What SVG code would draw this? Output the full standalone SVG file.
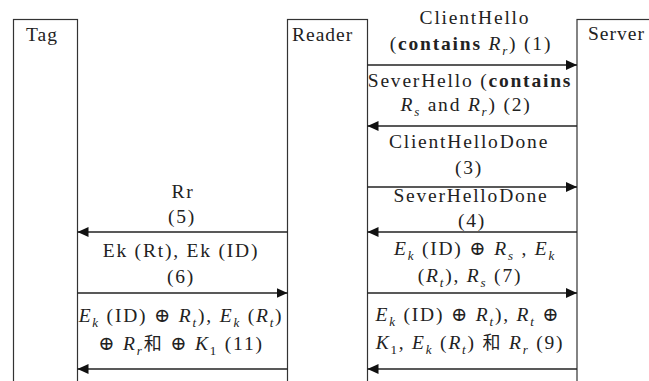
<svg xmlns="http://www.w3.org/2000/svg" width="649" height="381" viewBox="0 0 649 381">
<style>
  .box{fill:none;stroke:#333;stroke-width:1.2}
  text{font-family:'Liberation Serif',Tinos,'Times New Roman','DejaVu Serif',serif;font-size:19.5px;fill:#222}
  .hdr{letter-spacing:1px}
  .lbl{letter-spacing:1.8px;text-anchor:middle}
  .msg{stroke:#222;stroke-width:1.5;fill:none}
  .i{font-style:italic}
  .b{font-weight:bold}
  .s{font-size:13px}
  .cjk{font-family:'Noto Sans CJK SC',sans-serif;font-size:18px}
</style>
<defs>
  <marker id="ah" markerWidth="12" markerHeight="10" refX="11" refY="5" orient="auto" markerUnits="userSpaceOnUse">
    <path d="M0,0 L11,5 L0,10 Z" fill="#111"/>
  </marker>
</defs>
<rect width="649" height="381" fill="#fff"/>
<g id="tag">
  <rect class="box" x="13.5" y="19.5" width="64" height="400"/>
  <text class="hdr" x="26" y="41">Tag</text>
</g>
<g id="reader">
  <rect class="box" x="287.5" y="19.5" width="80" height="400"/>
  <text class="hdr" x="292" y="41">Reader</text>
</g>
<g id="server">
  <rect class="box" x="577" y="19.5" width="100" height="400"/>
  <text class="hdr" x="588" y="40">Server</text>
</g>
<g id="connectors">
  <g id="m1">
    <line class="msg" x1="367.5" y1="65" x2="577" y2="65" marker-end="url(#ah)"/>
    <text class="lbl" x="475" y="24">ClientHello</text>
    <text class="lbl" x="471" y="50">(<tspan class="b">contains </tspan><tspan class="i">R</tspan><tspan class="i s" dy="5">r</tspan><tspan dy="-5">) (1)</tspan></text>
  </g>
  <g id="m2">
    <line class="msg" x1="577" y1="126" x2="367.5" y2="126" marker-end="url(#ah)"/>
    <text class="lbl" x="470" y="87">SeverHello (<tspan class="b">contains</tspan></text>
    <text class="lbl" x="466" y="111"><tspan class="i">R</tspan><tspan class="i s" dy="5">s</tspan><tspan dy="-5"> and </tspan><tspan class="i">R</tspan><tspan class="i s" dy="5">r</tspan><tspan dy="-5">) (2)</tspan></text>
  </g>
  <g id="m3">
    <line class="msg" x1="367.5" y1="187" x2="577" y2="187" marker-end="url(#ah)"/>
    <text class="lbl" x="469" y="148">ClientHelloDone</text>
    <text class="lbl" x="469" y="174">(3)</text>
  </g>
  <g id="m4">
    <line class="msg" x1="577" y1="232" x2="367.5" y2="232" marker-end="url(#ah)"/>
    <text class="lbl" x="471" y="202">SeverHelloDone</text>
    <text class="lbl" x="472" y="227">(4)</text>
  </g>
  <g id="m5">
    <line class="msg" x1="287.5" y1="232" x2="77.5" y2="232" marker-end="url(#ah)"/>
    <text class="lbl" x="183" y="198">Rr</text>
    <text class="lbl" x="182" y="223">(5)</text>
  </g>
  <g id="m6">
    <line class="msg" x1="77.5" y1="293" x2="287.5" y2="293" marker-end="url(#ah)"/>
    <text class="lbl" x="181" y="257">Ek (Rt), Ek (ID)</text>
    <text class="lbl" x="181" y="283">(6)</text>
  </g>
  <g id="m7">
    <line class="msg" x1="367.5" y1="293" x2="577" y2="293" marker-end="url(#ah)"/>
    <text class="lbl" x="475" y="255"><tspan class="i">E</tspan><tspan class="i s" dy="5">k</tspan><tspan dy="-5"> (ID) ⊕ </tspan><tspan class="i">R</tspan><tspan class="i s" dy="5">s</tspan><tspan dy="-5"> , </tspan><tspan class="i">E</tspan><tspan class="i s" dy="5">k</tspan></text>
    <text class="lbl" x="470" y="282">(<tspan class="i">R</tspan><tspan class="i s" dy="5">t</tspan><tspan dy="-5">), </tspan><tspan class="i">R</tspan><tspan class="i s" dy="5">s</tspan><tspan dy="-5"> (7)</tspan></text>
  </g>
  <g id="m9">
    <line class="msg" x1="577" y1="369" x2="367.5" y2="369" marker-end="url(#ah)"/>
    <text class="lbl" x="468" y="321"><tspan class="i">E</tspan><tspan class="i s" dy="5">k</tspan><tspan dy="-5"> (ID) ⊕ </tspan><tspan class="i">R</tspan><tspan class="i s" dy="5">t</tspan><tspan dy="-5">), </tspan><tspan class="i">R</tspan><tspan class="i s" dy="5">t</tspan><tspan dy="-5"> ⊕</tspan></text>
    <text class="lbl" x="470" y="349"><tspan class="i">K</tspan><tspan class="s" dy="5">1</tspan><tspan dy="-5">, </tspan><tspan class="i">E</tspan><tspan class="i s" dy="5">k</tspan><tspan dy="-5"> (</tspan><tspan class="i">R</tspan><tspan class="i s" dy="5">t</tspan><tspan dy="-5">) </tspan><tspan class="cjk">和</tspan> <tspan class="i">R</tspan><tspan class="i s" dy="5">r</tspan><tspan dy="-5"> (9)</tspan></text>
  </g>
  <g id="m11">
    <line class="msg" x1="287.5" y1="369" x2="77.5" y2="369" marker-end="url(#ah)"/>
    <text class="lbl" x="181" y="322"><tspan class="i">E</tspan><tspan class="i s" dy="5">k</tspan><tspan dy="-5"> (ID) ⊕ </tspan><tspan class="i">R</tspan><tspan class="i s" dy="5">t</tspan><tspan dy="-5">), </tspan><tspan class="i">E</tspan><tspan class="i s" dy="5">k</tspan><tspan dy="-5"> (</tspan><tspan class="i">R</tspan><tspan class="i s" dy="5">t</tspan><tspan dy="-5">)</tspan></text>
    <text class="lbl" x="181" y="350">⊕ <tspan class="i">R</tspan><tspan class="i s" dy="5">r</tspan><tspan class="cjk" dy="-5">和</tspan> ⊕ <tspan class="i">K</tspan><tspan class="s" dy="5">1</tspan><tspan dy="-5"> (11)</tspan></text>
  </g>
</g>
</svg>
